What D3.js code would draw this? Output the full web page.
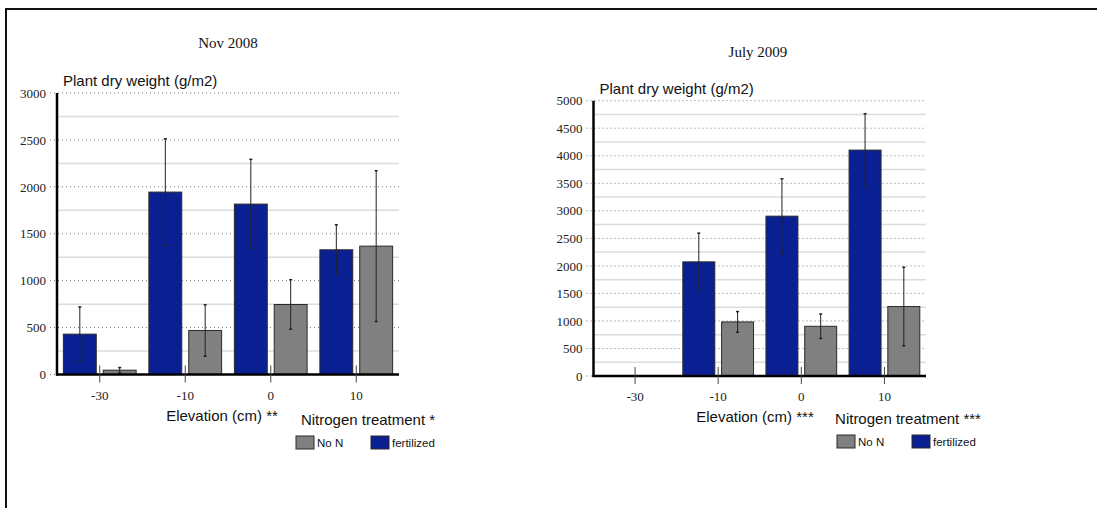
<!DOCTYPE html>
<html><head><meta charset="utf-8">
<script src="https://cdn.jsdelivr.net/npm/d3@7"></script>
<style>body{margin:0;background:#fff}svg{display:block}</style>
</head><body><svg id="c" width="1097" height="508"></svg>
<script>
const categories = ["-30", "-10", "0", "10"];
const seriesNames = ["fertilized", "No N"];

const nov2008Fert = [430, 1944, 1816, 1329];
const nov2008FertErr = [290, 568, 477, 267];
const nov2008NoN = [46, 469, 746, 1368];
const nov2008NoNErr = [28, 274, 264, 804];
const nov2008Ticks = [0, 500, 1000, 1500, 2000, 2500, 3000];

const jul2009Fert = [null, 2073, 2903, 4103];
const jul2009FertErr = [null, 521, 679, 661];
const jul2009NoN = [null, 982, 903, 1262];
const jul2009NoNErr = [null, 188, 222, 713];
const jul2009Ticks = [0, 500, 1000, 1500, 2000, 2500, 3000, 3500, 4000, 4500, 5000];

const colors = {"fertilized": "#0a2092", "No N": "#808080"};
const serif = "'Liberation Serif', 'DejaVu Serif', serif";
const sans = "'Liberation Sans', 'DejaVu Sans', sans-serif";

const svg = d3.select("#c");
// outer frame
svg.append("rect").attr("x", 6).attr("y", 9).attr("width", 1200).attr("height", 600)
  .attr("fill", "none").attr("stroke", "#111").attr("stroke-width", 2);

function drawChart(cfg) {
  const g = svg.append("g");
  const y = d3.scaleLinear().domain([0, d3.max(cfg.ticks)]).range([cfg.y0, cfg.y1]);
  const x = d3.scaleBand().domain(categories).range([cfg.x0, cfg.x1]);
  const xs = d3.scaleBand().domain(seriesNames).range([0, x.bandwidth()])
    .paddingInner(0.175).paddingOuter(0.16);
  const maxT = d3.max(cfg.ticks);
  const step = cfg.ticks[1] - cfg.ticks[0];

  // light solid half-step gridlines
  const half = d3.range(step / 2, maxT, step);
  g.selectAll(".hg").data(half).join("line")
    .attr("x1", cfg.x0).attr("x2", cfg.x1)
    .attr("y1", d => y(d)).attr("y2", d => y(d))
    .attr("stroke", "#dcdcdc").attr("stroke-width", 1.5);

  // dotted major gridlines
  g.selectAll(".mg").data(cfg.ticks.filter(d => d > 0)).join("line")
    .attr("x1", cfg.x0 - 7).attr("x2", cfg.x1)
    .attr("y1", d => y(d)).attr("y2", d => y(d))
    .attr("stroke", "#777").attr("stroke-width", 1).attr("stroke-dasharray", "1,3");
  g.append("line").attr("x1", cfg.x0 - 7).attr("x2", cfg.x0 - 2)
    .attr("y1", y(0)).attr("y2", y(0))
    .attr("stroke", "#777").attr("stroke-width", 1).attr("stroke-dasharray", "1,3");

  // y tick labels
  const ya = d3.axisLeft(y).tickValues(cfg.ticks).tickSize(0).tickPadding(11).tickFormat(d3.format("d"));
  const yg = g.append("g").attr("transform", `translate(${cfg.x0},0)`).call(ya);
  yg.select(".domain").remove();
  yg.selectAll("text").attr("font-family", serif).attr("font-size", 13).attr("fill", "#222");

  // bars
  const data = [];
  categories.forEach((c, i) => {
    data.push({c, s: "fertilized", v: cfg.fert[i], e: cfg.fertErr[i]});
    data.push({c, s: "No N", v: cfg.noN[i], e: cfg.noNErr[i]});
  });
  const valid = data.filter(d => d.v != null);
  g.selectAll(".bar").data(valid).join("rect")
    .attr("x", d => x(d.c) + xs(d.s))
    .attr("width", xs.bandwidth())
    .attr("y", d => y(d.v))
    .attr("height", d => y(0) - y(d.v))
    .attr("fill", d => colors[d.s])
    .attr("stroke", "#2a2a2a").attr("stroke-width", 1);

  // error bars
  const eg = g.selectAll(".err").data(valid).join("g");
  const cx = d => x(d.c) + xs(d.s) + xs.bandwidth() / 2;
  eg.append("line").attr("x1", cx).attr("x2", cx)
    .attr("y1", d => y(d.v + d.e)).attr("y2", d => y(Math.max(0, d.v - d.e)))
    .attr("stroke", "#222").attr("stroke-width", 1);
  eg.append("line").attr("x1", d => cx(d) - 1.5).attr("x2", d => cx(d) + 1.5)
    .attr("y1", d => y(d.v + d.e)).attr("y2", d => y(d.v + d.e))
    .attr("stroke", "#222").attr("stroke-width", 1.5);
  eg.append("line").attr("x1", d => cx(d) - 1.5).attr("x2", d => cx(d) + 1.5)
    .attr("y1", d => y(Math.max(0, d.v - d.e))).attr("y2", d => y(Math.max(0, d.v - d.e)))
    .attr("stroke", "#222").attr("stroke-width", 1.5);

  // axes lines
  g.append("line").attr("x1", cfg.x0).attr("x2", cfg.x0)
    .attr("y1", y(maxT)).attr("y2", y(0) + 1)
    .attr("stroke", "#000").attr("stroke-width", 2.5);
  g.append("line").attr("x1", cfg.x0 - 1).attr("x2", cfg.x1)
    .attr("y1", y(0)).attr("y2", y(0))
    .attr("stroke", "#000").attr("stroke-width", 2.5);

  // x category ticks
  const xa = d3.axisBottom(x).tickSize(8).tickPadding(8);
  const xg = g.append("g").attr("transform", `translate(0,${y(0)})`).call(xa);
  xg.select(".domain").remove();
  xg.selectAll(".tick line").attr("y1", -9).attr("stroke", "#444").attr("stroke-width", 1);
  xg.selectAll("text").attr("font-family", serif).attr("font-size", 13).attr("fill", "#222");

  // titles & labels
  g.append("text").attr("x", cfg.titleX).attr("y", cfg.titleY).attr("text-anchor", "middle")
    .attr("font-family", serif).attr("font-size", 15).attr("fill", "#111").text(cfg.title);
  g.append("text").attr("x", cfg.x0 + 6).attr("y", y(maxT) - 7)
    .attr("font-family", sans).attr("font-size", 15).attr("fill", "#111").text("Plant dry weight (g/m2)");
  g.append("text").attr("x", cfg.elevX).attr("y", cfg.elevY).attr("text-anchor", "middle")
    .attr("font-family", sans).attr("font-size", 15).attr("fill", "#111").text(cfg.elevLabel);
  g.append("text").attr("x", cfg.nitX).attr("y", cfg.nitY).attr("text-anchor", "middle")
    .attr("font-family", sans).attr("font-size", 15).attr("fill", "#111").text(cfg.nitLabel);

  // legend
  const leg = [{s: "No N", x: cfg.legX}, {s: "fertilized", x: cfg.legX + 75}];
  const lg = g.selectAll(".leg").data(leg).join("g")
    .attr("transform", d => `translate(${d.x},${cfg.legY})`);
  lg.append("rect").attr("width", 18).attr("height", 13)
    .attr("fill", d => colors[d.s]).attr("stroke", "#2a2a2a").attr("stroke-width", 1);
  lg.append("text").attr("x", 21).attr("y", 10.5)
    .attr("font-family", sans).attr("font-size", 11.5).attr("fill", "#111").text(d => d.s);
}

drawChart({
  x0: 57, x1: 399, y0: 374.5, y1: 93,
  ticks: nov2008Ticks, fert: nov2008Fert, fertErr: nov2008FertErr, noN: nov2008NoN, noNErr: nov2008NoNErr,
  title: "Nov 2008", titleX: 228, titleY: 48,
  elevLabel: "Elevation (cm) **", elevX: 222, elevY: 421,
  nitLabel: "Nitrogen treatment *", nitX: 368, nitY: 425,
  legX: 296, legY: 436
});
drawChart({
  x0: 593.5, x1: 926, y0: 376, y1: 100.7,
  ticks: jul2009Ticks, fert: jul2009Fert, fertErr: jul2009FertErr, noN: jul2009NoN, noNErr: jul2009NoNErr,
  title: "July 2009", titleX: 758, titleY: 57,
  elevLabel: "Elevation (cm) ***", elevX: 755, elevY: 422,
  nitLabel: "Nitrogen treatment ***", nitX: 908, nitY: 424,
  legX: 837, legY: 435
});
</script>
</body></html>
